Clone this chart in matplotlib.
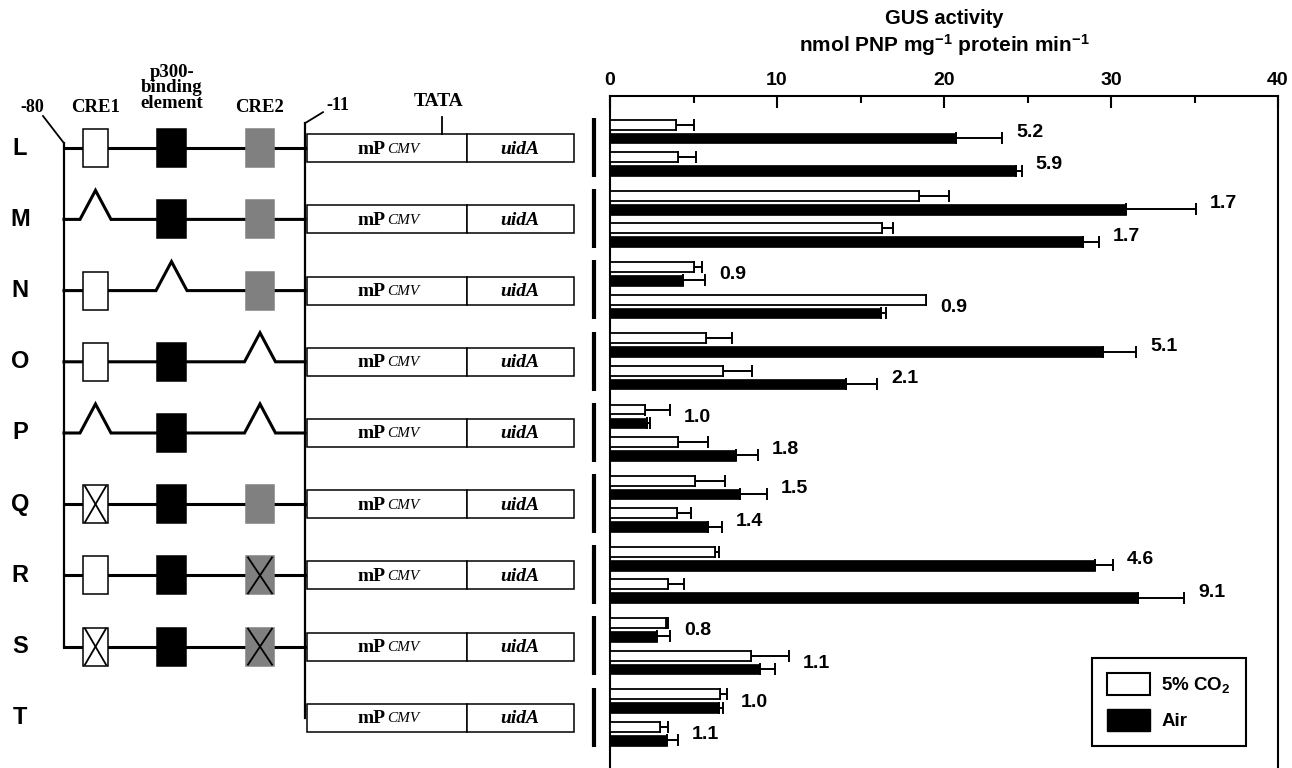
import numpy as np
import matplotlib
matplotlib.use("Agg")
import matplotlib.pyplot as plt
from matplotlib.patches import Rectangle, Patch
from matplotlib.transforms import blended_transform_factory

plt.rcParams['font.family'] = ['Liberation Sans', 'DejaVu Sans']
plt.rcParams['mathtext.fontset'] = 'custom'
plt.rcParams['mathtext.rm'] = 'Liberation Sans:bold'
plt.rcParams['mathtext.bf'] = 'Liberation Sans:bold'
plt.rcParams['mathtext.it'] = 'Liberation Sans:bold:italic'

# constructs and promoter elements (box / del = deleted / mut = mutated)
constructs = ['L', 'M', 'N', 'O', 'P', 'Q', 'R', 'S', 'T']
cre1 = ['box', 'del', 'box', 'box', 'del', 'mut', 'box', 'mut', None]
p300 = ['box', 'box', 'del', 'box', 'box', 'box', 'box', 'box', None]
cre2 = ['box', 'box', 'box', 'del', 'del', 'box', 'mut', 'mut', None]

# two lines per construct, GUS activity (nmol PNP mg-1 protein min-1)
co2_mean = [3.96, 4.1, 18.5, 16.3, 5.05, 18.9, 5.77, 6.78, 2.09, 4.08,
            5.11, 4.0, 6.26, 3.48, 3.33, 8.46, 6.58, 2.98]
co2_err = [1.05, 1.05, 1.8, 0.65, 0.45, 0.05, 1.55, 1.75, 1.5, 1.77,
           1.75, 0.85, 0.25, 0.94, 0.17, 2.25, 0.4, 0.47]
air_mean = [20.7, 24.3, 30.9, 28.3, 4.36, 16.2, 29.5, 14.15, 2.2, 7.52,
            7.78, 5.85, 29.05, 31.6, 2.79, 9.0, 6.5, 3.42]
air_err = [2.8, 0.35, 4.2, 1.0, 1.35, 0.3, 2.0, 1.85, 0.22, 1.33,
           1.64, 0.85, 1.05, 2.8, 0.83, 0.9, 0.25, 0.65]
fold = ['5.2', '5.9', '1.7', '1.7', '0.9', '0.9', '5.1', '2.1', '1.0', '1.8',
        '1.5', '1.4', '4.6', '9.1', '0.8', '1.1', '1.0', '1.1']

co2_mean = np.array(co2_mean); co2_err = np.array(co2_err)
air_mean = np.array(air_mean); air_err = np.array(air_err)

fig = plt.figure(figsize=(12.92, 7.68), dpi=100)
ax0 = fig.add_axes([0, 0, 1, 1])
ax0.set_xlim(0, 1292)
ax0.set_ylim(768, 0)
ax0.axis('off')

ax = fig.add_axes([610/1292, 0, 668/1292, 672/768])

# bar chart
gi = np.repeat(np.arange(len(constructs)), 2)
pair = np.tile([0, 1], len(constructs))
y_co2 = gi + np.where(pair == 0, 0.0, 0.456)
y_air = y_co2 + 0.188

ax.barh(y_co2, co2_mean, height=0.14, color='white', edgecolor='black', linewidth=1.3, zorder=3)
ax.barh(y_air, air_mean, height=0.15, color='black', edgecolor='black', linewidth=0.5, zorder=3)
ax.errorbar(co2_mean, y_co2, xerr=[np.zeros(len(co2_mean)), co2_err], fmt='none',
            ecolor='black', elinewidth=1.4, capsize=4, capthick=1.4, zorder=2)
ax.errorbar(air_mean, y_air, xerr=[np.zeros(len(air_mean)), air_err], fmt='none',
            ecolor='black', elinewidth=1.4, capsize=4, capthick=1.4, zorder=2)

label_x = np.maximum(co2_mean + co2_err, air_mean + air_err)
for lx, ly, t in zip(label_x, y_co2 + 0.11, fold):
    ax.annotate(t, xy=(lx, ly), xytext=(10, 0), textcoords='offset points',
                ha='left', va='center', fontsize=14, fontweight='bold')

ax.set_xlim(0, 40)
ax.set_ylim(9.035, -0.403)
ax.xaxis.tick_top()
ax.set_xticks([0, 10, 20, 30, 40])
ax.set_xticks([5, 15, 25, 35], minor=True)
ax.tick_params(axis='x', which='major', direction='in', length=8.5, width=1.5, pad=5, labelsize=14)
ax.tick_params(axis='x', which='minor', direction='in', length=5, width=1.5)
for lab in ax.get_xticklabels():
    lab.set_fontweight('bold')
ax.set_yticks([])
ax.spines['bottom'].set_visible(False)
for s in ['top', 'left', 'right']:
    ax.spines[s].set_linewidth(1.5)

trans = blended_transform_factory(ax.transAxes, ax.transData)
for i in range(len(constructs)):
    ax.plot([-0.024, -0.024], [i - 0.094, i + 0.735], transform=trans, color='black',
            lw=3, clip_on=False, solid_capstyle='butt')

fig.text((610 + 334)/1292, 1 - 18/768, 'GUS activity', ha='center', va='center',
         fontsize=14.5, fontweight='bold')
fig.text((610 + 334)/1292, 1 - 45/768,
         r'nmol PNP mg$^{-1}$ protein min$^{-1}$', ha='center', va='center',
         fontsize=15, fontweight='bold')

handles = [Patch(facecolor='white', edgecolor='black', linewidth=1.5, label='5% CO$_{2}$'),
           Patch(facecolor='black', edgecolor='black', label='Air')]
leg = ax.legend(handles=handles, loc='lower right', bbox_to_anchor=(0.952, 0.0327),
                borderaxespad=0, fancybox=False, edgecolor='black', framealpha=1,
                prop={'size': 13.5, 'weight': 'bold'}, handlelength=2.3, handleheight=1.4,
                labelspacing=0.75, handletextpad=0.6, borderpad=0.8)
leg.get_frame().set_linewidth(1.5)

# schematic of the constructs
fig.canvas.draw()
rows_y = [768 - ax.transData.transform((0, i + 0.33))[1] for i in range(len(constructs))]

serif = ['Liberation Serif', 'DejaVu Serif']
elem_x = [95.5, 171.5, 260]
elem_w = [25, 29, 28]
elem_fc = ['white', 'black', '#808080']
x_start, x_end = 64, 305

for i, y in enumerate(rows_y):
    ax0.text(20, y, constructs[i], ha='center', va='center', fontsize=17, fontweight='bold')
    ax0.add_patch(Rectangle((307, y - 14), 160, 28, facecolor='white', edgecolor='black', lw=1.1))
    ax0.add_patch(Rectangle((467, y - 14), 107, 28, facecolor='white', edgecolor='black', lw=1.1))
    ax0.text(386, y + 1, 'mP', ha='right', va='center', fontsize=14, fontweight='bold', family=serif)
    ax0.text(387, y + 1, 'CMV', ha='left', va='center', fontsize=11, style='italic', family=serif)
    ax0.text(520, y + 1, 'uidA', ha='center', va='center', fontsize=14, fontweight='bold',
             style='italic', family=serif)
    states = [cre1[i], p300[i], cre2[i]]
    if states[0] is None:
        continue
    xs, ys = [x_start], [y]
    for cx, st in zip(elem_x, states):
        if st == 'del':
            xs += [cx - 15.5, cx, cx + 15.5]
            ys += [y, y - 29, y]
    xs.append(x_end); ys.append(y)
    ax0.plot(xs, ys, color='black', lw=2.2, solid_joinstyle='miter', zorder=2)
    for cx, w, fc, st in zip(elem_x, elem_w, elem_fc, states):
        if st == 'del':
            continue
        ec = 'black' if fc == 'white' else fc
        ax0.add_patch(Rectangle((cx - w/2, y - 19), w, 38, facecolor=fc, edgecolor=ec, lw=1.1, zorder=3))
        if st == 'mut':
            ax0.plot([cx - w/2 + 2, cx + w/2 - 2], [y - 18, y + 18], color='black', lw=1.3, zorder=4)
            ax0.plot([cx - w/2 + 2, cx + w/2 - 2], [y + 18, y - 18], color='black', lw=1.3, zorder=4)

ax0.plot([x_start, x_start], [rows_y[0] - 5, rows_y[7]], color='black', lw=1.6)
ax0.plot([43, x_start], [116, rows_y[0] - 5], color='black', lw=1.3)
ax0.plot([x_end, x_end], [rows_y[0] - 25, rows_y[8]], color='black', lw=1.6)
ax0.plot([x_end, 323], [rows_y[0] - 25, rows_y[0] - 36], color='black', lw=1.3)
ax0.plot([442, 442], [rows_y[0] - 31, rows_y[0] - 14], color='black', lw=1.3)

ax0.text(32, 107, '-80', ha='center', va='center', fontsize=13, fontweight='bold', family=serif)
ax0.text(338, 105, '-11', ha='center', va='center', fontsize=13, fontweight='bold', family=serif)
ax0.text(95.5, 108, 'CRE1', ha='center', va='center', fontsize=13.5, fontweight='bold', family=serif)
ax0.text(260, 108, 'CRE2', ha='center', va='center', fontsize=13.5, fontweight='bold', family=serif)
ax0.text(172, 88, 'p300-\nbinding\nelement', ha='center', va='center', fontsize=13.5,
         fontweight='bold', family=serif, linespacing=0.9)
ax0.text(439, 101, 'TATA', ha='center', va='center', fontsize=14, fontweight='bold', family=serif)

fig.savefig('out.png', dpi=100)
